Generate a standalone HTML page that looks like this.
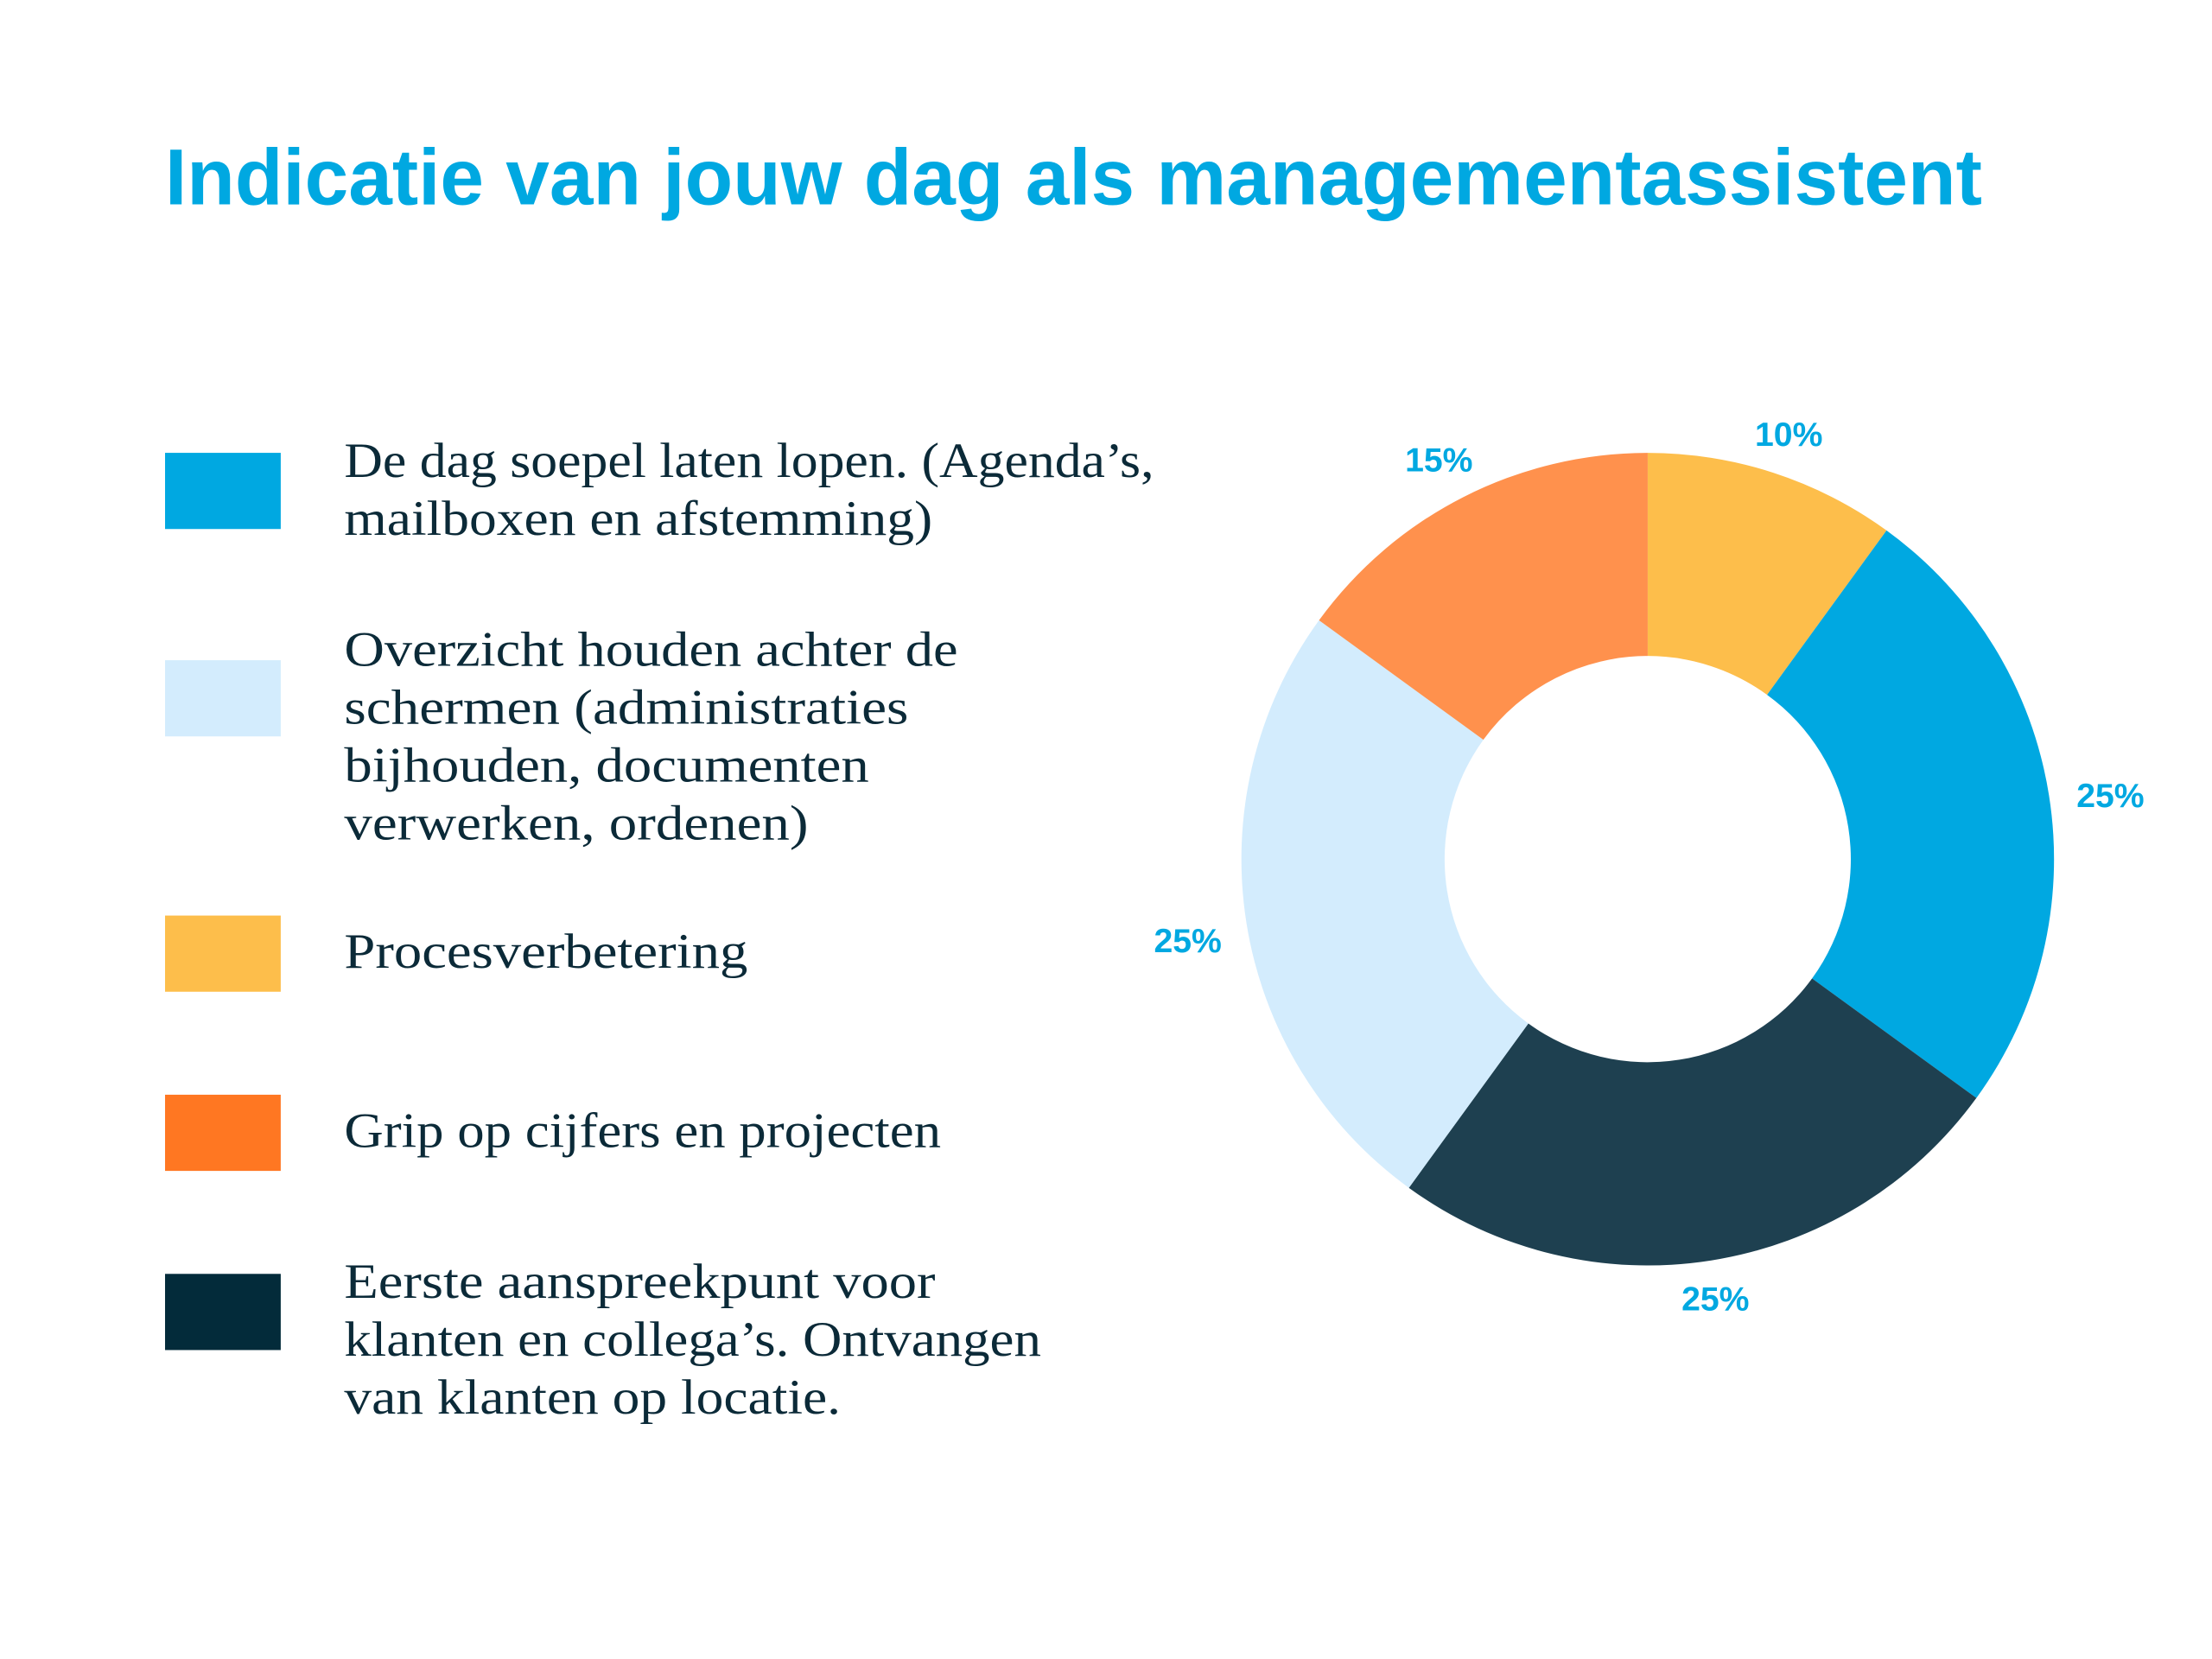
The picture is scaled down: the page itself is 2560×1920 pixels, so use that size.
<!DOCTYPE html>
<html><head><meta charset="utf-8"><style>
html,body{margin:0;padding:0;background:#fff}
svg{display:block}
</style></head><body>
<svg width="2560" height="1920" viewBox="0 0 1568 1176" xmlns="http://www.w3.org/2000/svg">
<rect width="1568" height="1176" fill="#fff"/>
<text x="117" y="145" font-family="Liberation Sans, sans-serif" font-weight="bold" font-size="56" fill="#00A8E1" textLength="1288" lengthAdjust="spacingAndGlyphs">Indicatie van jouw dag als managementassistent</text>
<g>
<rect x="117" y="321" width="82" height="54" fill="#00A8E1"/>
<rect x="117" y="468" width="82" height="54" fill="#D3ECFD"/>
<rect x="117" y="649" width="82" height="54" fill="#FDBE4B"/>
<rect x="117" y="776" width="82" height="54" fill="#FF7722"/>
<rect x="117" y="903" width="82" height="54" fill="#032B3A"/>
</g>
<g font-family="Liberation Serif, serif" font-size="35" fill="#0B2A38">
<text x="244" y="338" textLength="574" lengthAdjust="spacingAndGlyphs">De dag soepel laten lopen. (Agenda’s,</text>
<text x="244" y="379" textLength="417" lengthAdjust="spacingAndGlyphs">mailboxen en afstemming)</text>
<text x="244" y="472" textLength="435" lengthAdjust="spacingAndGlyphs">Overzicht houden achter de</text>
<text x="244" y="513" textLength="400" lengthAdjust="spacingAndGlyphs">schermen (administraties</text>
<text x="244" y="554" textLength="372" lengthAdjust="spacingAndGlyphs">bijhouden, documenten</text>
<text x="244" y="595" textLength="329" lengthAdjust="spacingAndGlyphs">verwerken, ordenen)</text>
<text x="244" y="686" textLength="286" lengthAdjust="spacingAndGlyphs">Procesverbetering</text>
<text x="244" y="813" textLength="423" lengthAdjust="spacingAndGlyphs">Grip op cijfers en projecten</text>
<text x="244" y="920" textLength="419" lengthAdjust="spacingAndGlyphs">Eerste aanspreekpunt voor</text>
<text x="244" y="961" textLength="494" lengthAdjust="spacingAndGlyphs">klanten en collega’s. Ontvangen</text>
<text x="244" y="1002" textLength="352" lengthAdjust="spacingAndGlyphs">van klanten op locatie.</text>
</g>
<g transform="translate(1168,609)">
<path d="M0,-288 A288,288 0 0 1 169.3,-233 L84.6,-116.5 A144,144 0 0 0 0,-144 Z" fill="#FDBE4B"/>
<path d="M169.3,-233 A288,288 0 0 1 233,169.3 L116.5,84.6 A144,144 0 0 0 84.6,-116.5 Z" fill="#00A8E1"/>
<path d="M233,169.3 A288,288 0 0 1 -169.3,233 L-84.6,116.5 A144,144 0 0 0 116.5,84.6 Z" fill="#1E4050"/>
<path d="M-169.3,233 A288,288 0 0 1 -233,-169.3 L-116.5,-84.6 A144,144 0 0 0 -84.6,116.5 Z" fill="#D3ECFD"/>
<path d="M-233,-169.3 A288,288 0 0 1 0,-288 L0,-144 A144,144 0 0 0 -116.5,-84.6 Z" fill="#FF914D"/>
</g>
<g font-family="Liberation Sans, sans-serif" font-weight="bold" font-size="24" fill="#00A8E1" text-anchor="middle">
<text x="1268" y="316">10%</text>
<text x="1496" y="572">25%</text>
<text x="1216" y="929">25%</text>
<text x="842" y="675">25%</text>
<text x="1020" y="334">15%</text>
</g>
</svg>
</body></html>
